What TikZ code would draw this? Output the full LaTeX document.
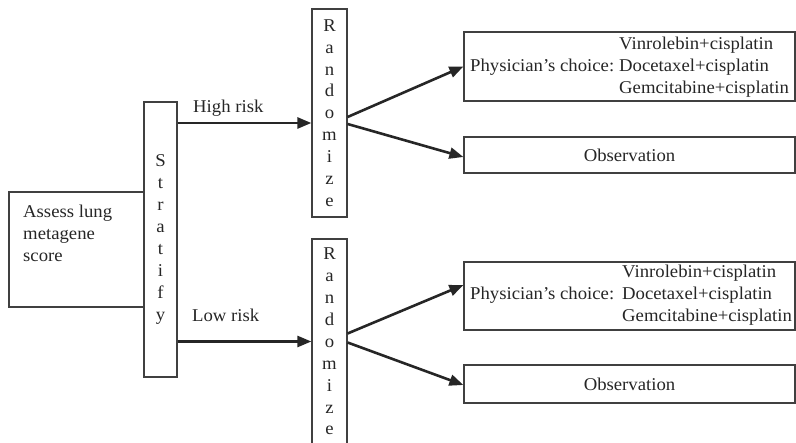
\documentclass[tikz,border=0pt]{standalone}
\usepackage{fontspec}
\setmainfont[FakeStretch=1.04]{Liberation Serif}
\usetikzlibrary{arrows.meta}
\begin{document}
\begin{tikzpicture}[x=1pt,y=-1pt,
  every node/.style={font=\fontsize{18}{21.9}\selectfont, text=black!85},
  box/.style={draw=black!75, line width=1.2pt, rectangle, inner sep=0pt, align=center},
  lbl/.style={inner sep=0pt},
  arr/.style={draw=black!85, line width=2.6pt, -{Triangle[length=14pt,width=11pt]}}]
\useasboundingbox (0,0) rectangle (796,443);
% assess
\node[box, minimum width=135, minimum height=115] (assess) at (76.5,249.5) {};
\node[lbl, anchor=west, align=left] (assesst) at (23,233) {Assess lung\\metagene\\score};
% stratify
\node[box, minimum width=33, minimum height=275] (strat) at (160.5,239.5) {S\\t\\r\\a\\t\\i\\f\\y};
% randomize
\node[box, minimum width=35, minimum height=208] (r1) at (329.5,113) {R\\a\\n\\d\\o\\m\\i\\z\\e};
\node[box, minimum width=35, minimum height=205] (r2) at (329.5,341.5) {R\\a\\n\\d\\o\\m\\i\\z\\e};
% treatment boxes
\node[box, minimum width=331, minimum height=69] (t1) at (629.5,66.5) {};
\node[lbl, anchor=west] (t1p) at (470,67) {Physician’s choice:};
\node[lbl, anchor=west, align=left] (t1d) at (619,67) {Vinrolebin+cisplatin\\Docetaxel+cisplatin\\Gemcitabine+cisplatin};
\node[box, minimum width=331, minimum height=36] (o1) at (629.5,155) {Observation};
\node[box, minimum width=331, minimum height=68] (t2) at (629.5,296) {};
\node[lbl, anchor=west] (t2p) at (470,295) {Physician’s choice:};
\node[lbl, anchor=west, align=left] (t2d) at (622,295) {Vinrolebin+cisplatin\\Docetaxel+cisplatin\\Gemcitabine+cisplatin};
\node[box, minimum width=331, minimum height=38] (o2) at (629.5,384) {Observation};
% risk labels
\node[lbl, anchor=west] (hr) at (193,108) {High risk};
\node[lbl, anchor=west] (lr) at (192,315) {Low risk};
% arrows
\draw[arr] (strat.east |- 0,123) -- (r1.west |- 0,123);
\draw[arr] (strat.east |- r2.west) -- (r2.west);
\draw[arr] ([yshift=-4pt]r1.east) -- (t1.west);
\draw[arr] ([yshift=-11pt]r1.east) -- ([yshift=-2pt]o1.west);
\draw[arr] ([yshift=8pt]r2.east) -- ([yshift=11pt]t2.west);
\draw[arr] ([yshift=-1pt]r2.east) -- ([yshift=-1pt]o2.west);
\end{tikzpicture}
\end{document}
